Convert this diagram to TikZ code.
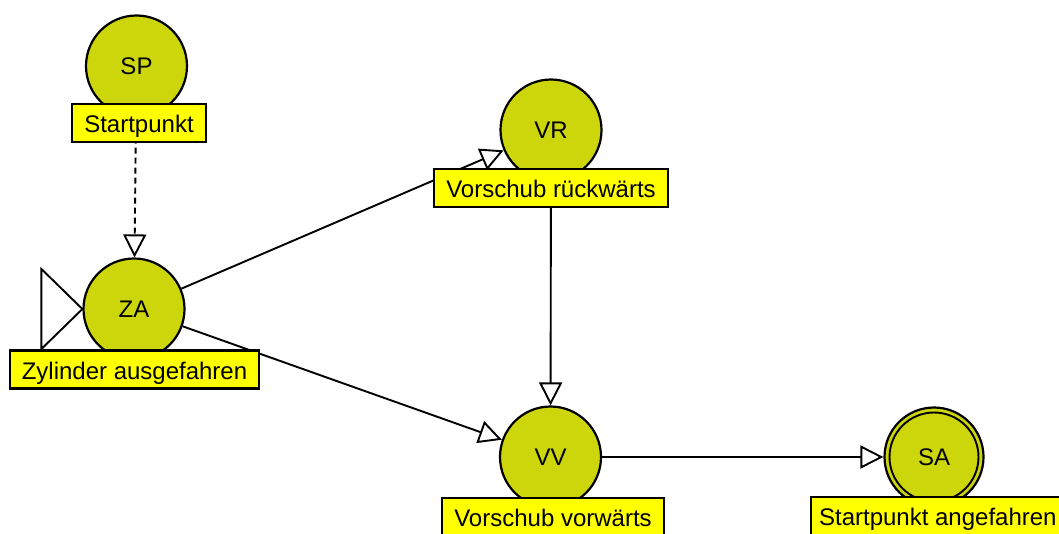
\documentclass[tikz,border=0pt]{standalone}
\usepackage{fontspec}
\setmainfont{Liberation Sans}
\usetikzlibrary{arrows.meta}
\definecolor{stategreen}{RGB}{205,214,10}
\definecolor{labelyellow}{RGB}{255,255,0}
\begin{document}
\begin{tikzpicture}[x=1pt,y=-1pt,
  state/.style={circle, draw=black, line width=2.2pt, fill=stategreen,
    minimum size=101pt, inner sep=0pt, text height=17pt, text depth=0pt,
    font=\fontsize{24}{28}\selectfont},
  statelabel/.style={draw=black, line width=2.2pt, fill=labelyellow,
    minimum height=38pt, inner xsep=12pt, inner ysep=0pt,
    text height=19pt, text depth=0pt, font=\fontsize{24}{28}\selectfont},
  trans/.style={line width=1.9pt,
    -{Triangle[length=23pt, width=23pt, fill=white]}},
  initmark/.style={line width=1.9pt},
]
\useasboundingbox (0,0) rectangle (1059,533);
% states
\node[state] (SP) at (136.5,66) {SP};
\node[state] (VR) at (551,130) {VR};
\node[state] (ZA) at (134,309) {ZA};
\node[state] (VV) at (550.5,457) {VV};
\node[state, minimum size=99pt] (SA) at (934,457) {SA};
\draw[line width=1.9pt] (SA.center) circle (44.5);
% initial marker
\draw[initmark] (ZA.west) -- ++(-41,-40) -- ++(0,80) -- cycle;
% transitions
\draw[trans, dash pattern=on 6pt off 4pt] (SP) -- (ZA);
\draw[trans] (ZA) -- (VR);
\draw[trans] (ZA) -- (VV);
\draw[trans] (VR) -- (VV);
\draw[trans] (VV) -- (SA);
% labels
\node[statelabel] (SPl) at (139,123) {Startpunkt};
\node[statelabel] (VRl) at (551,188) {Vorschub rückwärts};
\node[statelabel] (ZAl) at (134.5,369.5) {Zylinder ausgefahren};
\node[statelabel] (VVl) at (553,517) {Vorschub vorwärts};
\node[statelabel, anchor=west, inner xsep=8pt] (SAl) at (810,516) {Startpunkt angefahren};
\end{tikzpicture}
\end{document}
